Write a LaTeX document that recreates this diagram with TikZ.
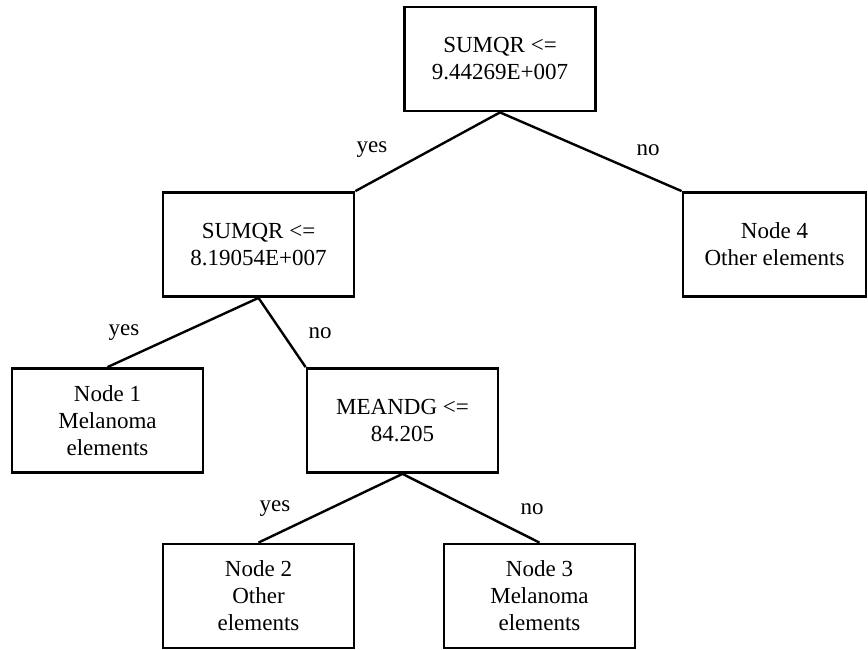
\documentclass[tikz,border=0pt]{standalone}
\usepackage{fontspec}
\setmainfont{Liberation Serif}
\tikzset{
  treebox/.style={draw, line width=2.8pt, minimum width=191pt, minimum height=104pt,
    align=center, inner sep=0pt, font=\fontsize{23}{27}\selectfont},
  edge/.style={line width=2.4pt},
  lbl/.style={font=\fontsize{23}{27}\selectfont, inner sep=0pt}
}
\begin{document}
\begin{tikzpicture}[x=1pt,y=-1pt]
\useasboundingbox (0,0) rectangle (868,650);
\node[treebox] (root) at (500,59) {SUMQR <=\\9.44269E+007};
\node[treebox] (left) at (258.5,244.5) {SUMQR <=\\8.19054E+007};
\node[treebox, minimum width=183pt] (n4) at (774.5,244.5) {Node 4\\Other elements};
\node[treebox] (n1) at (107.5,420.5) {Node 1\\Melanoma\\elements};
\node[treebox] (mg) at (402.5,420.5) {MEANDG <=\\84.205};
\node[treebox] (n2) at (258.5,596) {Node 2\\Other\\elements};
\node[treebox] (n3) at (539.5,596) {Node 3\\Melanoma\\elements};
\draw[edge] (root.south) -- (left.north east);
\draw[edge] (root.south) -- (n4.north west);
\draw[edge] (left.south) -- (n1.north);
\draw[edge] (left.south) -- (mg.north west);
\draw[edge] (mg.south) -- (n2.north);
\draw[edge] (mg.south) -- (n3.north);
\node[lbl] (y1) at (372,150) {yes};
\node[lbl] (o1) at (648,150) {no};
\node[lbl] (y2) at (124,333) {yes};
\node[lbl] (o2) at (320,333) {no};
\node[lbl] (y3) at (275,509) {yes};
\node[lbl] (o3) at (532,509) {no};
\end{tikzpicture}
\end{document}
